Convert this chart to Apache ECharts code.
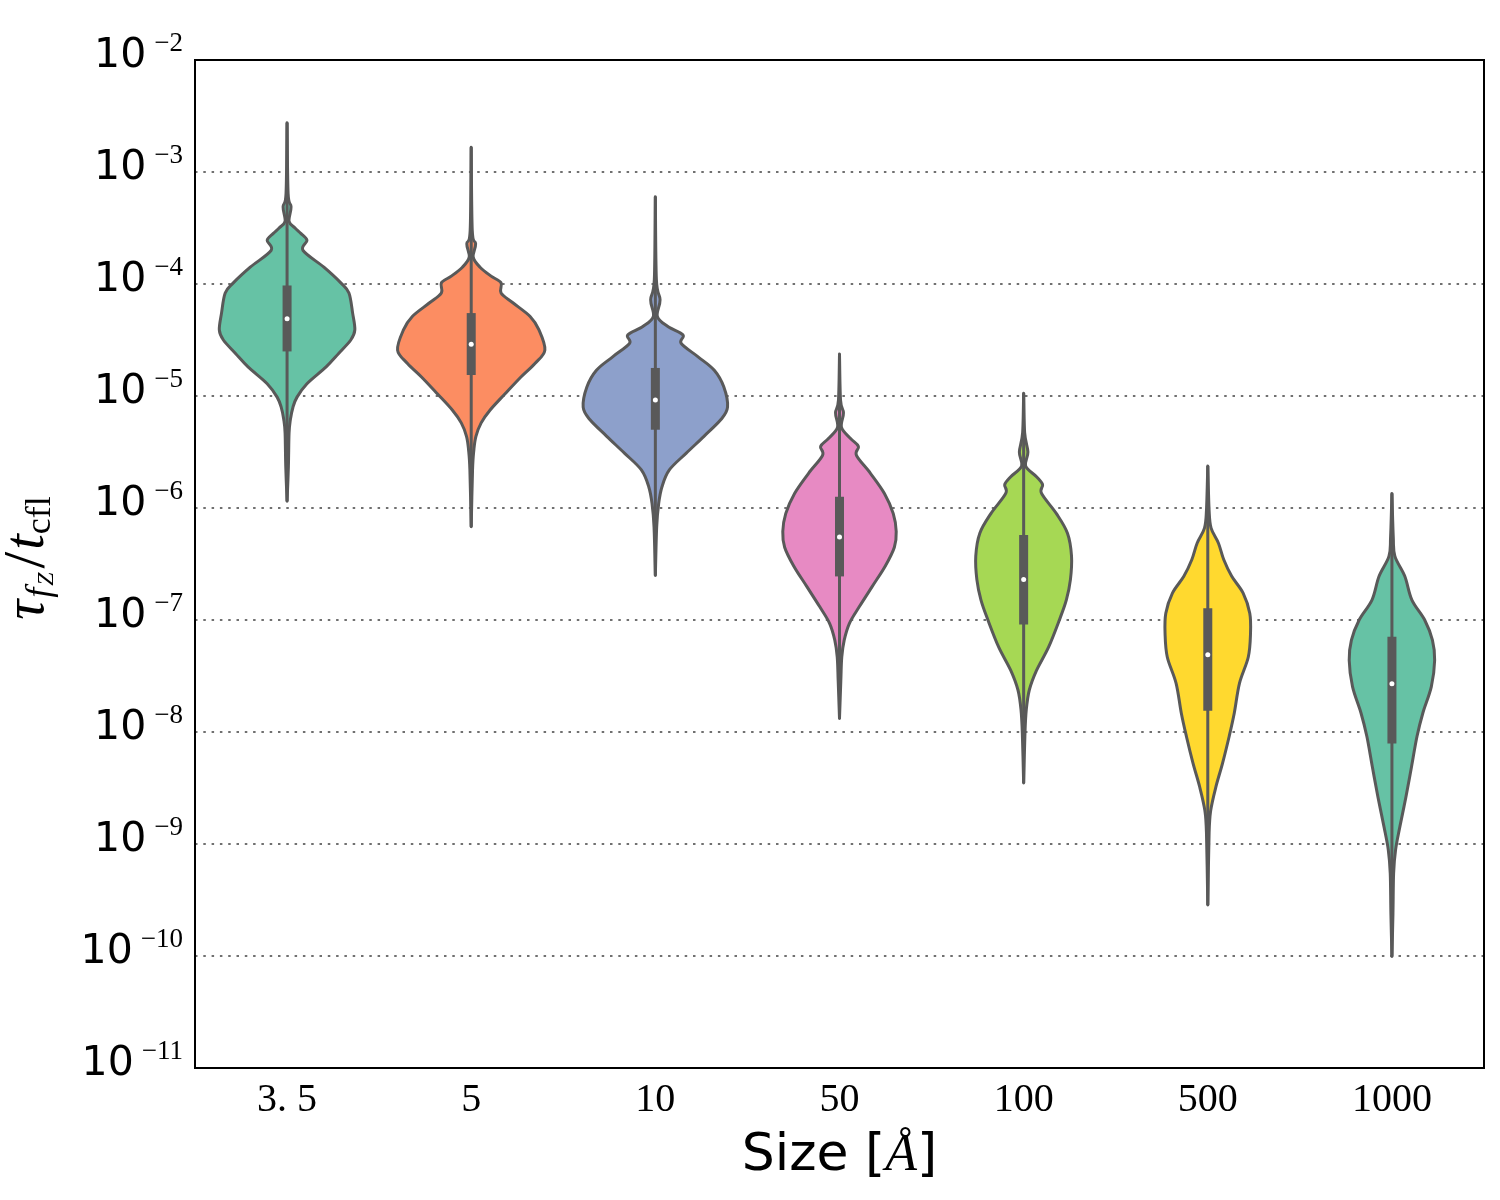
<!DOCTYPE html>
<html>
<head>
<meta charset="utf-8">
<script src="https://cdn.jsdelivr.net/npm/echarts@6/dist/echarts.min.js"></script>
<style>
  html, body { margin: 0; padding: 0; background: #fff; }
  #main { width: 1500px; height: 1200px; }
</style>
</head>
<body>
<div id="main"></div>
<script>
// categories (particle size, Angstrom)
const sizes = ['3. 5', '5', '10', '50', '100', '500', '1000'];
const colors = ['#66c2a5', '#fc8d62', '#8da0cb', '#e78ac3', '#a6d854', '#ffd92f', '#66c2a5'];

// box statistics, tau / t_cfl
const medians = [4.9e-5, 2.9e-5, 9.2e-6, 5.5e-7, 2.3e-7, 4.9e-8, 2.7e-8];
const q1 = [2.5e-5, 1.54e-5, 5.0e-6, 2.45e-7, 9.1e-8, 1.55e-8, 7.9e-9];
const q3 = [9.7e-5, 5.5e-5, 1.78e-5, 1.26e-6, 5.75e-7, 1.27e-7, 7.1e-8];
const whiskerHi = [2.75e-3, 1.66e-3, 6.0e-4, 2.37e-5, 1.06e-5, 2.37e-6, 1.35e-6];
const whiskerLo = [1.15e-6, 6.8e-7, 2.5e-7, 1.32e-8, 3.5e-9, 2.85e-10, 9.9e-11];

// violin outlines: log10(value) levels and relative density (1 = widest)
const v35Exp = [-3.19, -3.31, -3.44, -3.50, -3.55, -3.61, -3.70, -3.85, -3.99, -4.08, -4.26, -4.41, -4.50, -4.62, -4.74, -4.89, -5.01, -5.10, -5.21, -5.33, -5.63];
const v35Den = [0.014, 0.054, 0.027, 0.108, 0.19, 0.27, 0.216, 0.5, 0.73, 0.84, 0.89, 0.92, 0.865, 0.70, 0.53, 0.27, 0.135, 0.08, 0.045, 0.027, 0.018];

const v5Exp = [-3.52, -3.64, -3.76, -3.85, -3.93, -3.99, -4.08, -4.17, -4.29, -4.41, -4.59, -4.71, -4.83, -4.98, -5.125, -5.24, -5.36, -5.48, -5.66];
const v5Den = [0.014, 0.06, 0.027, 0.12, 0.27, 0.405, 0.405, 0.57, 0.80, 0.92, 1.0, 0.865, 0.675, 0.46, 0.257, 0.135, 0.064, 0.036, 0.018];

const v10Exp = [-3.96, -4.14, -4.29, -4.38, -4.455, -4.53, -4.65, -4.77, -4.92, -5.10, -5.21, -5.36, -5.51, -5.66, -5.81, -5.96, -6.17];
const v10Den = [0.014, 0.064, 0.027, 0.17, 0.375, 0.35, 0.58, 0.80, 0.93, 0.98, 0.89, 0.66, 0.42, 0.19, 0.09, 0.045, 0.018];

const v50Exp = [-5.036, -5.15, -5.28, -5.38, -5.45, -5.53, -5.69, -5.87, -6.05, -6.21, -6.35, -6.52, -6.70, -6.88, -7.03, -7.18, -7.33, -7.54];
const v50Den = [0.014, 0.054, 0.027, 0.15, 0.257, 0.23, 0.42, 0.61, 0.73, 0.77, 0.745, 0.62, 0.445, 0.27, 0.135, 0.064, 0.031, 0.018];

const v100Exp = [-5.33, -5.50, -5.625, -5.72, -5.79, -5.87, -6.05, -6.225, -6.43, -6.64, -6.82, -7.00, -7.24, -7.45, -7.625, -7.80, -8.01];
const v100Den = [0.014, 0.058, 0.027, 0.175, 0.257, 0.243, 0.445, 0.595, 0.65, 0.635, 0.58, 0.485, 0.34, 0.175, 0.077, 0.036, 0.018];

const v500Exp = [-6.02, -6.18, -6.315, -6.46, -6.61, -6.76, -6.94, -7.12, -7.33, -7.565, -7.83, -8.04, -8.28, -8.49, -8.70, -8.90];
const v500Den = [0.018, 0.045, 0.145, 0.216, 0.325, 0.48, 0.57, 0.58, 0.55, 0.43, 0.36, 0.29, 0.2, 0.11, 0.04, 0.018];

const v1000Exp = [-6.256, -6.43, -6.61, -6.82, -7.00, -7.18, -7.36, -7.595, -7.83, -8.04, -8.31, -8.58, -8.845, -9.05, -9.26, -9.62];
const v1000Den = [0.018, 0.04, 0.175, 0.27, 0.445, 0.55, 0.58, 0.535, 0.42, 0.34, 0.266, 0.19, 0.108, 0.05, 0.023, 0.014];

const violinExps = [v35Exp, v5Exp, v10Exp, v50Exp, v100Exp, v500Exp, v1000Exp];
const violinDens = [v35Den, v5Den, v10Den, v50Den, v100Den, v500Den, v1000Den];

const gray = '#595959';
const chart = echarts.init(document.getElementById('main'));

// smooth outline through the given screen points (Catmull-Rom as cubic beziers)
function curveThrough(pts) {
  let d = '';
  for (let k = 0; k < pts.length - 1; k++) {
    const p0 = pts[Math.max(k - 1, 0)], p1 = pts[k], p2 = pts[k + 1], p3 = pts[Math.min(k + 2, pts.length - 1)];
    const c1 = [p1[0] + (p2[0] - p0[0]) / 6, p1[1] + (p2[1] - p0[1]) / 6];
    const c2 = [p2[0] - (p3[0] - p1[0]) / 6, p2[1] - (p3[1] - p1[1]) / 6];
    d += ' C' + c1[0].toFixed(2) + ' ' + c1[1].toFixed(2) + ' ' + c2[0].toFixed(2) + ' ' + c2[1].toFixed(2) + ' ' + p2[0].toFixed(2) + ' ' + p2[1].toFixed(2);
  }
  return d;
}

function renderViolin(params, api) {
  const i = params.dataIndex;
  const c = api.coord([i, medians[i]]);
  const band = Math.abs(api.size([1, 0], [i, medians[i]])[0]);
  const half = band * 0.4;
  const vals = [whiskerHi[i]].concat(violinExps[i].map(e => Math.pow(10, e)), [whiskerLo[i]]);
  const dens = [0].concat(violinDens[i], [0]);
  const ys = vals.map(v => api.coord([i, v])[1]);
  const right = ys.map((y, k) => [c[0] + dens[k] * half, y]);
  const left = ys.map((y, k) => [c[0] - dens[k] * half, y]).reverse();
  const pathData = 'M' + right[0][0].toFixed(2) + ' ' + right[0][1].toFixed(2) +
    curveThrough(right) + curveThrough(left) + ' Z';
  const yHi = api.coord([i, whiskerHi[i]])[1];
  const yLo = api.coord([i, whiskerLo[i]])[1];
  const yQ3 = api.coord([i, q3[i]])[1];
  const yQ1 = api.coord([i, q1[i]])[1];
  return {
    type: 'group',
    children: [
      {
        type: 'path',
        shape: { pathData: pathData },
        style: { fill: colors[i], stroke: gray, lineWidth: 3, lineJoin: 'round' }
      },
      {
        type: 'line',
        shape: { x1: c[0], y1: yHi, x2: c[0], y2: yLo },
        style: { stroke: gray, lineWidth: 3 }
      },
      {
        type: 'rect',
        shape: { x: c[0] - 4.5, y: yQ3, width: 9, height: yQ1 - yQ3 },
        style: { fill: gray }
      },
      {
        type: 'circle',
        shape: { cx: c[0], cy: c[1], r: 2.5 },
        style: { fill: '#fff' }
      }
    ]
  };
}

const expLabel = function (v) {
  const e = Math.round(Math.log10(v));
  return '{b|10}{e|\u2212' + (-e) + '}';
};

const tickStyle = { inside: true, length: 8, lineStyle: { color: '#000', width: 1 } };

const option = {
  animation: false,
  backgroundColor: '#fff',
  grid: {
    left: 195, right: 16, top: 60, bottom: 132,
    outerBoundsMode: 'none',
    containLabel: false,
    show: true, borderColor: '#000', borderWidth: 2
  },
  xAxis: [
    {
      type: 'category',
      data: sizes,
      boundaryGap: true,
      axisLine: { lineStyle: { color: '#000', width: 2 } },
      axisTick: Object.assign({ alignWithLabel: true }, tickStyle),
      axisLabel: { fontFamily: 'Liberation Serif', fontSize: 40, color: '#000', margin: 12 },
      name: '{s|Size [}{a|\u00c5}{s|]}',
      nameLocation: 'middle',
      nameGap: 62,
      nameTextStyle: {
        rich: {
          s: { fontFamily: 'DejaVu Sans', fontSize: 52, color: '#000' },
          a: { fontFamily: 'Liberation Serif', fontStyle: 'italic', fontSize: 52, color: '#000' }
        }
      }
    },
    {
      type: 'category',
      data: sizes,
      position: 'top',
      boundaryGap: true,
      axisLine: { show: true, lineStyle: { color: '#000', width: 2 } },
      axisTick: Object.assign({ alignWithLabel: true }, tickStyle),
      axisLabel: { show: false }
    }
  ],
  yAxis: [
    {
      type: 'log',
      logBase: 10,
      min: 1e-11,
      max: 1e-2,
      splitNumber: 9,
      axisLine: { show: true, lineStyle: { color: '#000', width: 2 } },
      axisTick: tickStyle,
      minorTick: { show: false },
      splitLine: { show: true, lineStyle: { color: '#707070', width: 2, type: [2.5, 5.8] } },
      axisLabel: {
        formatter: expLabel,
        margin: 12,
        padding: [0, 0, 8, 0],
        rich: {
          b: { fontFamily: 'DejaVu Sans', fontSize: 41, color: '#000', lineHeight: 52, padding: [0, 8, 0, 0] },
          e: { fontFamily: 'Liberation Serif', fontSize: 27, color: '#000', lineHeight: 20, verticalAlign: 'top' }
        }
      },
      name: '{m|\u03c4}{s|f}{ss|Z}{sl|/}{m|t}{c|cfl}',
      nameLocation: 'middle',
      nameGap: 136,
      nameRotate: 90,
      nameTextStyle: {
        padding: [0, 0, 0, 12],
        rich: {
          m: { fontFamily: 'Liberation Serif', fontStyle: 'italic', fontSize: 56, color: '#000', lineHeight: 62 },
          sl: { fontFamily: 'Liberation Serif', fontSize: 60, color: '#000', lineHeight: 62, padding: [0, 2, 0, 4] },
          s: { fontFamily: 'Liberation Serif', fontStyle: 'italic', fontSize: 36, color: '#000', lineHeight: 36, verticalAlign: 'bottom', padding: [0, 2, 0, 2] },
          ss: { fontFamily: 'Liberation Serif', fontStyle: 'italic', fontSize: 24, color: '#000', lineHeight: 18, verticalAlign: 'bottom' },
          c: { fontFamily: 'Liberation Serif', fontSize: 36, color: '#000', lineHeight: 36, verticalAlign: 'bottom' }
        }
      }
    },
    {
      type: 'log',
      logBase: 10,
      min: 1e-11,
      max: 1e-2,
      splitNumber: 9,
      position: 'right',
      axisLine: { show: true, lineStyle: { color: '#000', width: 2 } },
      axisTick: tickStyle,
      axisLabel: { show: false },
      splitLine: { show: false }
    }
  ],
  series: [
    {
      type: 'custom',
      xAxisIndex: 0,
      yAxisIndex: 0,
      renderItem: renderViolin,
      encode: { x: 0, y: 1 },
      data: sizes.map((s, i) => [i, medians[i]]),
      z: 3
    }
  ]
};

chart.setOption(option);
window.addEventListener('resize', () => chart.resize());
</script>
</body>
</html>
